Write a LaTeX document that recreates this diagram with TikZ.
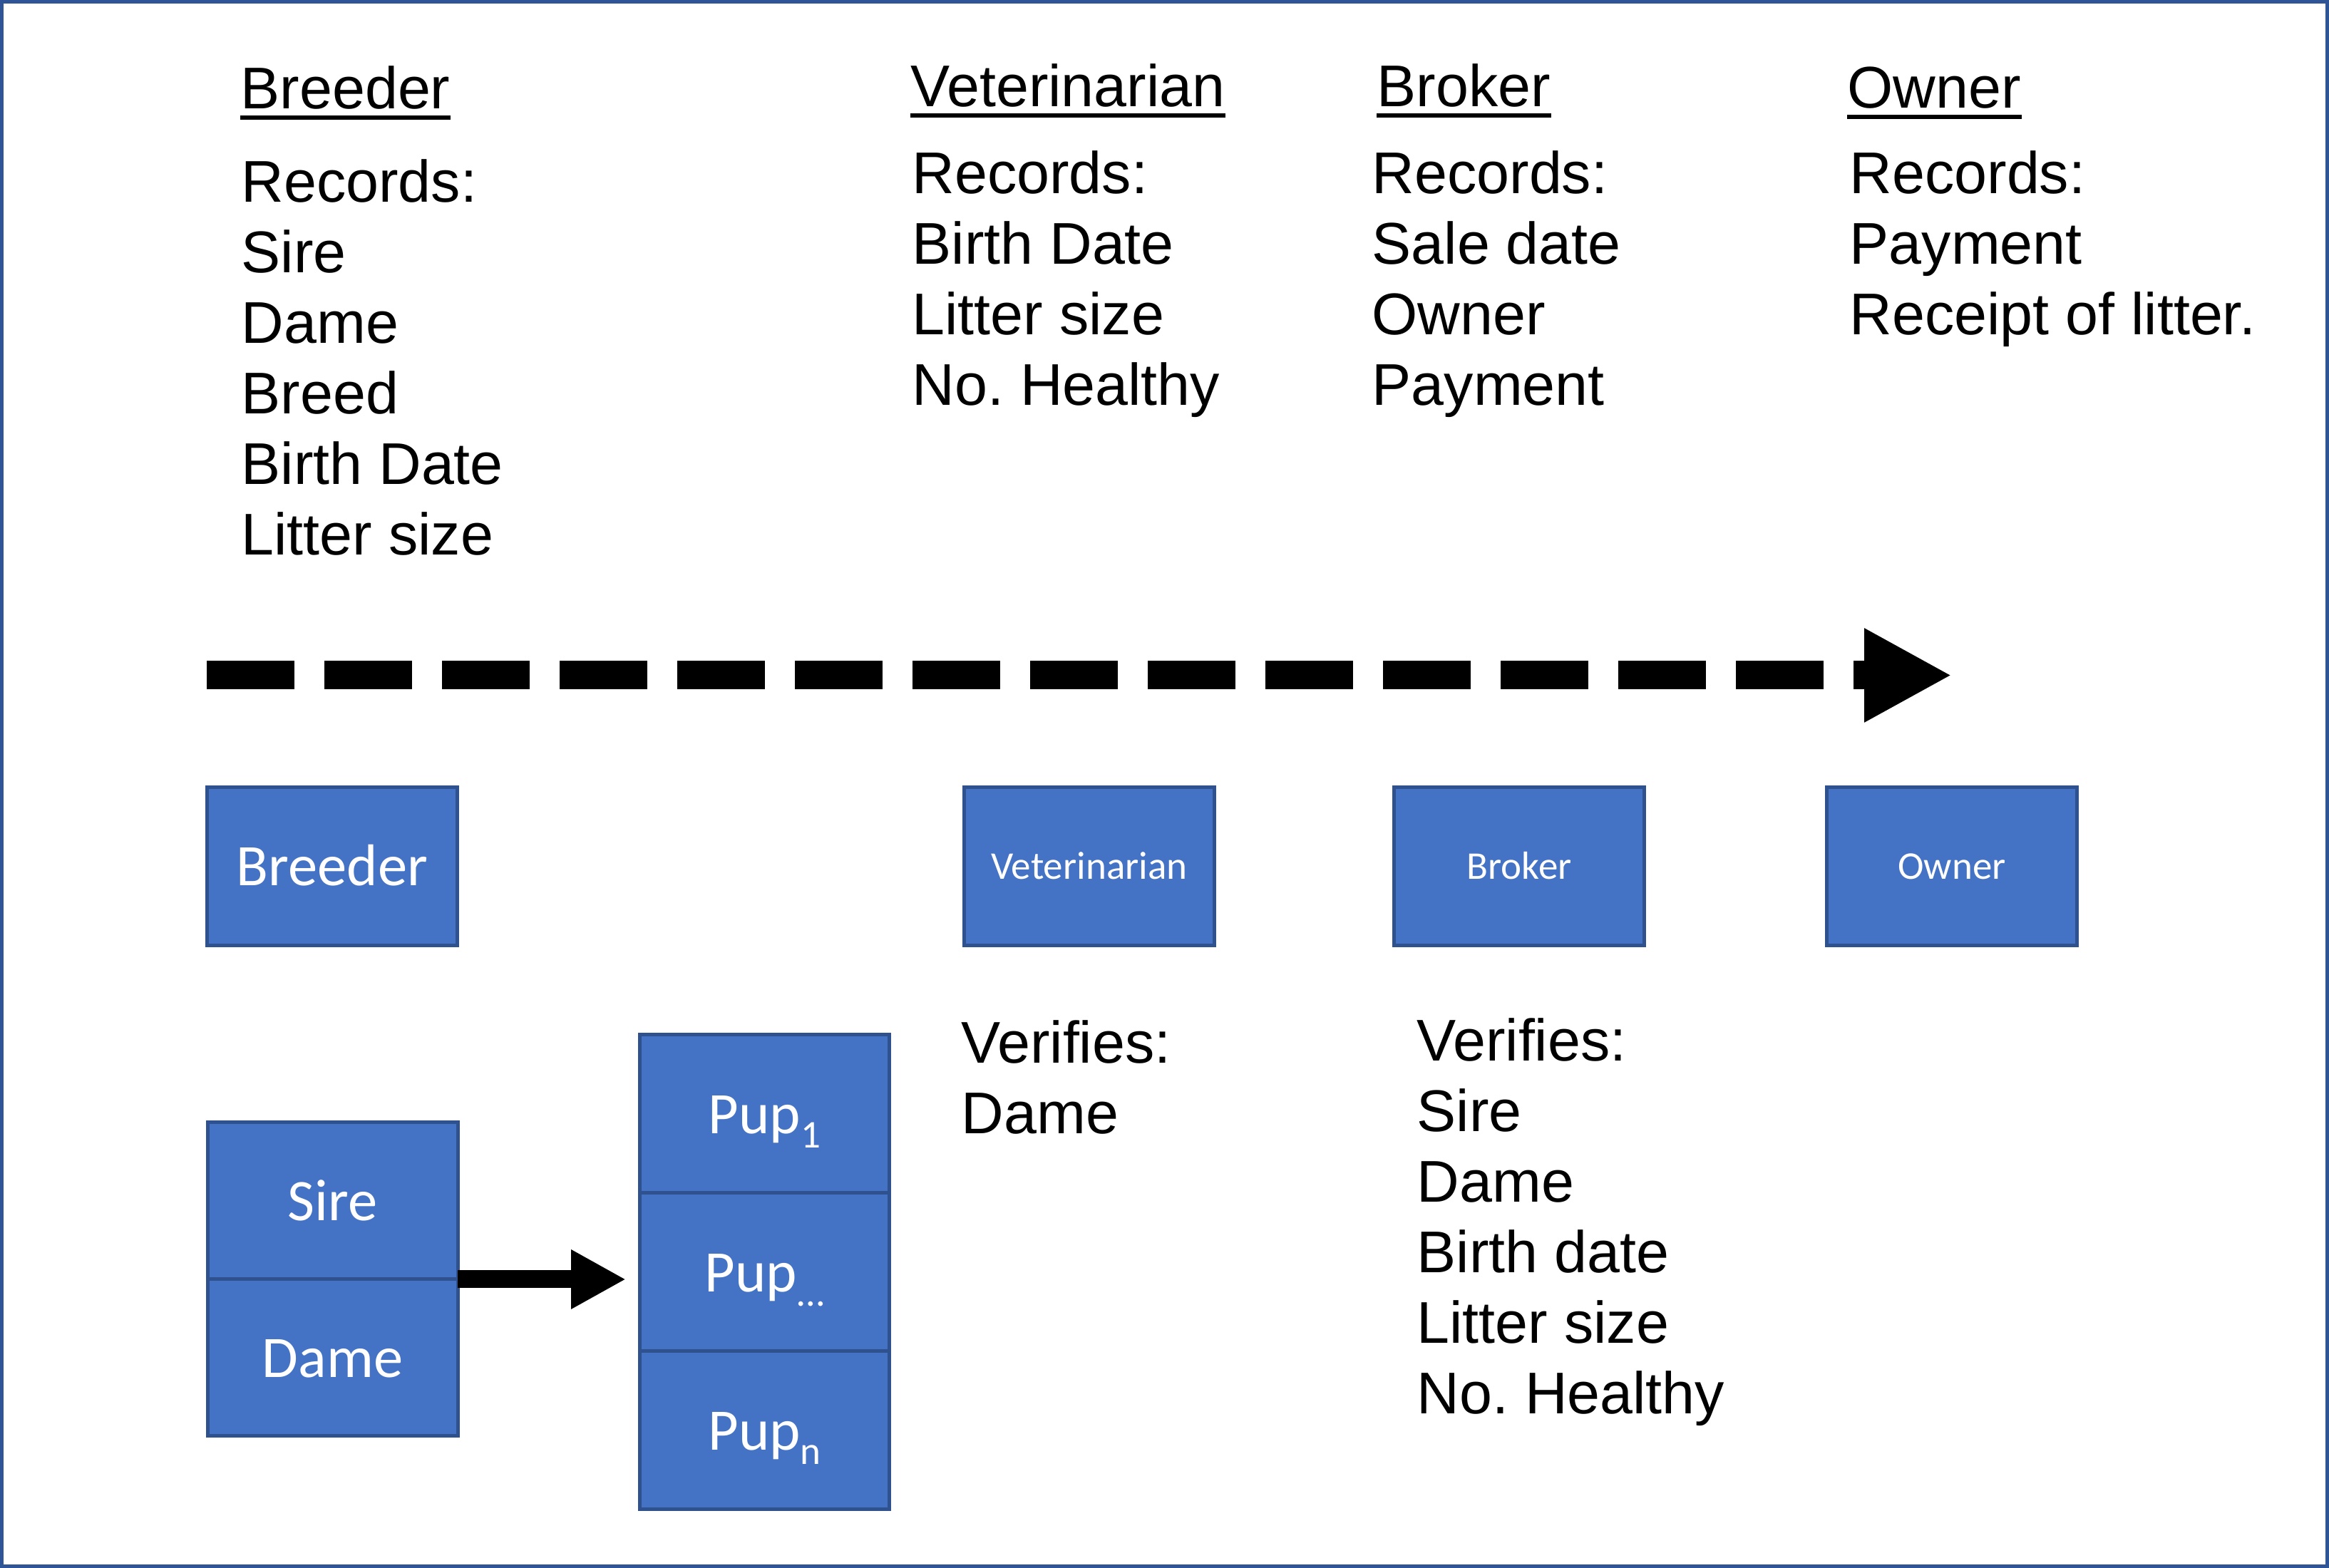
\documentclass[tikz,border=0pt]{standalone}
\usepackage{fontspec}
\setmainfont{Liberation Sans}
\newfontfamily\calfont{Carlito}
\usetikzlibrary{arrows.meta,positioning}
\definecolor{boxblue}{HTML}{4472C4}
\definecolor{boxline}{HTML}{2F528F}
\definecolor{framecol}{HTML}{2F5597}
\newcommand{\pupsub}[1]{\raisebox{-0.24em}{\fontsize{15.67}{18}\selectfont #1}}

\begin{document}
\begin{tikzpicture}[
  rolebox/.style={draw=boxline, fill=boxblue, line width=0.05cm, outer sep=0pt, inner sep=0pt,
    minimum width=3.51cm, minimum height=2.22cm, text=white,
    font=\calfont\fontsize{15.67}{18}\selectfont, text height=10.4pt, text depth=0pt},
  bigtext/.style={font=\calfont\fontsize{23.5}{28}\selectfont, text height=15.6pt, text depth=0pt},
  heading/.style={anchor=base west, inner sep=0pt, font=\fontsize{23.5}{28.17}\selectfont},
  notes/.style={anchor=north west, inner sep=0pt, align=left, font=\fontsize{23.5}{28.17}\selectfont},
  uline/.style={line width=0.06cm},
  timeline/.style={line width=0.40cm, dash pattern=on 1.23cm off 0.42cm,
    -{Triangle[length=1.23cm, width=1.23cm]}},
  bigarrow/.style={line width=0.25cm, -{Triangle[length=0.77cm, width=0.78cm]}, shorten >=0.195cm}
]
\useasboundingbox (0,0) rectangle (32.67,22);
\draw[framecol, line width=0.05cm] (0.025,0.025) rectangle (32.645,21.975);

% who records what
\node[heading] (hbreeder) at (3.37,20.47) {Breeder};
\node[heading] (hvet) at (12.77,20.50) {Veterinarian};
\node[heading] (hbroker) at (19.31,20.50) {Broker};
\node[heading] (howner) at (25.91,20.48) {Owner};
\foreach \h in {hbreeder,hvet,hbroker,howner}
  \draw[uline] ([yshift=-0.12cm]\h.base west) -- ([yshift=-0.12cm]\h.base east);

\node[notes] (rbreeder) at (3.38,19.77) {Records:\\Sire\\Dame\\Breed\\Birth Date\\Litter size};
\node[notes] (rvet) at (12.79,19.89) {Records:\\Birth Date\\Litter size\\No.\ Healthy};
\node[notes] (rbroker) at (19.24,19.89) {Records:\\Sale date\\Owner\\Payment};
\node[notes] (rowner) at (25.94,19.89) {Records:\\Payment\\Receipt of litter.};

% time runs left to right
\coordinate (tlstart) at (2.90,12.525);
\coordinate (tlend) at (27.38,12.525);
\draw[timeline] (tlstart) -- (tlend);

\node[rolebox, bigtext] (breeder) at (4.66,9.845) {Breeder};
\node[rolebox] (vet) at (15.28,9.845) {Veterinarian};
\node[rolebox] (broker) at (21.31,9.845) {Broker};
\node[rolebox] (owner) at (27.38,9.845) {Owner};

\node[notes] (vvet) at (13.48,7.69) {Verifies:\\Dame};
\node[notes] (vbroker) at (19.87,7.72) {Verifies:\\Sire\\Dame\\Birth date\\Litter size\\No.\ Healthy};

% parents and litter
\node[rolebox, bigtext, minimum height=2.2cm] (sire) at (4.667,5.15) {Sire};
\node[rolebox, bigtext, minimum height=2.2cm, below=0pt of sire] (dame) {Dame};

\node[rolebox, bigtext, minimum width=3.50cm] (pup1) at (10.725,6.37) {Pup\pupsub{1}};
\node[rolebox, bigtext, minimum width=3.50cm, below=0pt of pup1] (pupm) {Pup\pupsub{…}};
\node[rolebox, bigtext, minimum width=3.50cm, below=0pt of pupm] (pupn) {Pup\pupsub{n}};

\draw[bigarrow] (sire.south east) -- (sire.south east -| pupm.west);
\end{tikzpicture}
\end{document}
